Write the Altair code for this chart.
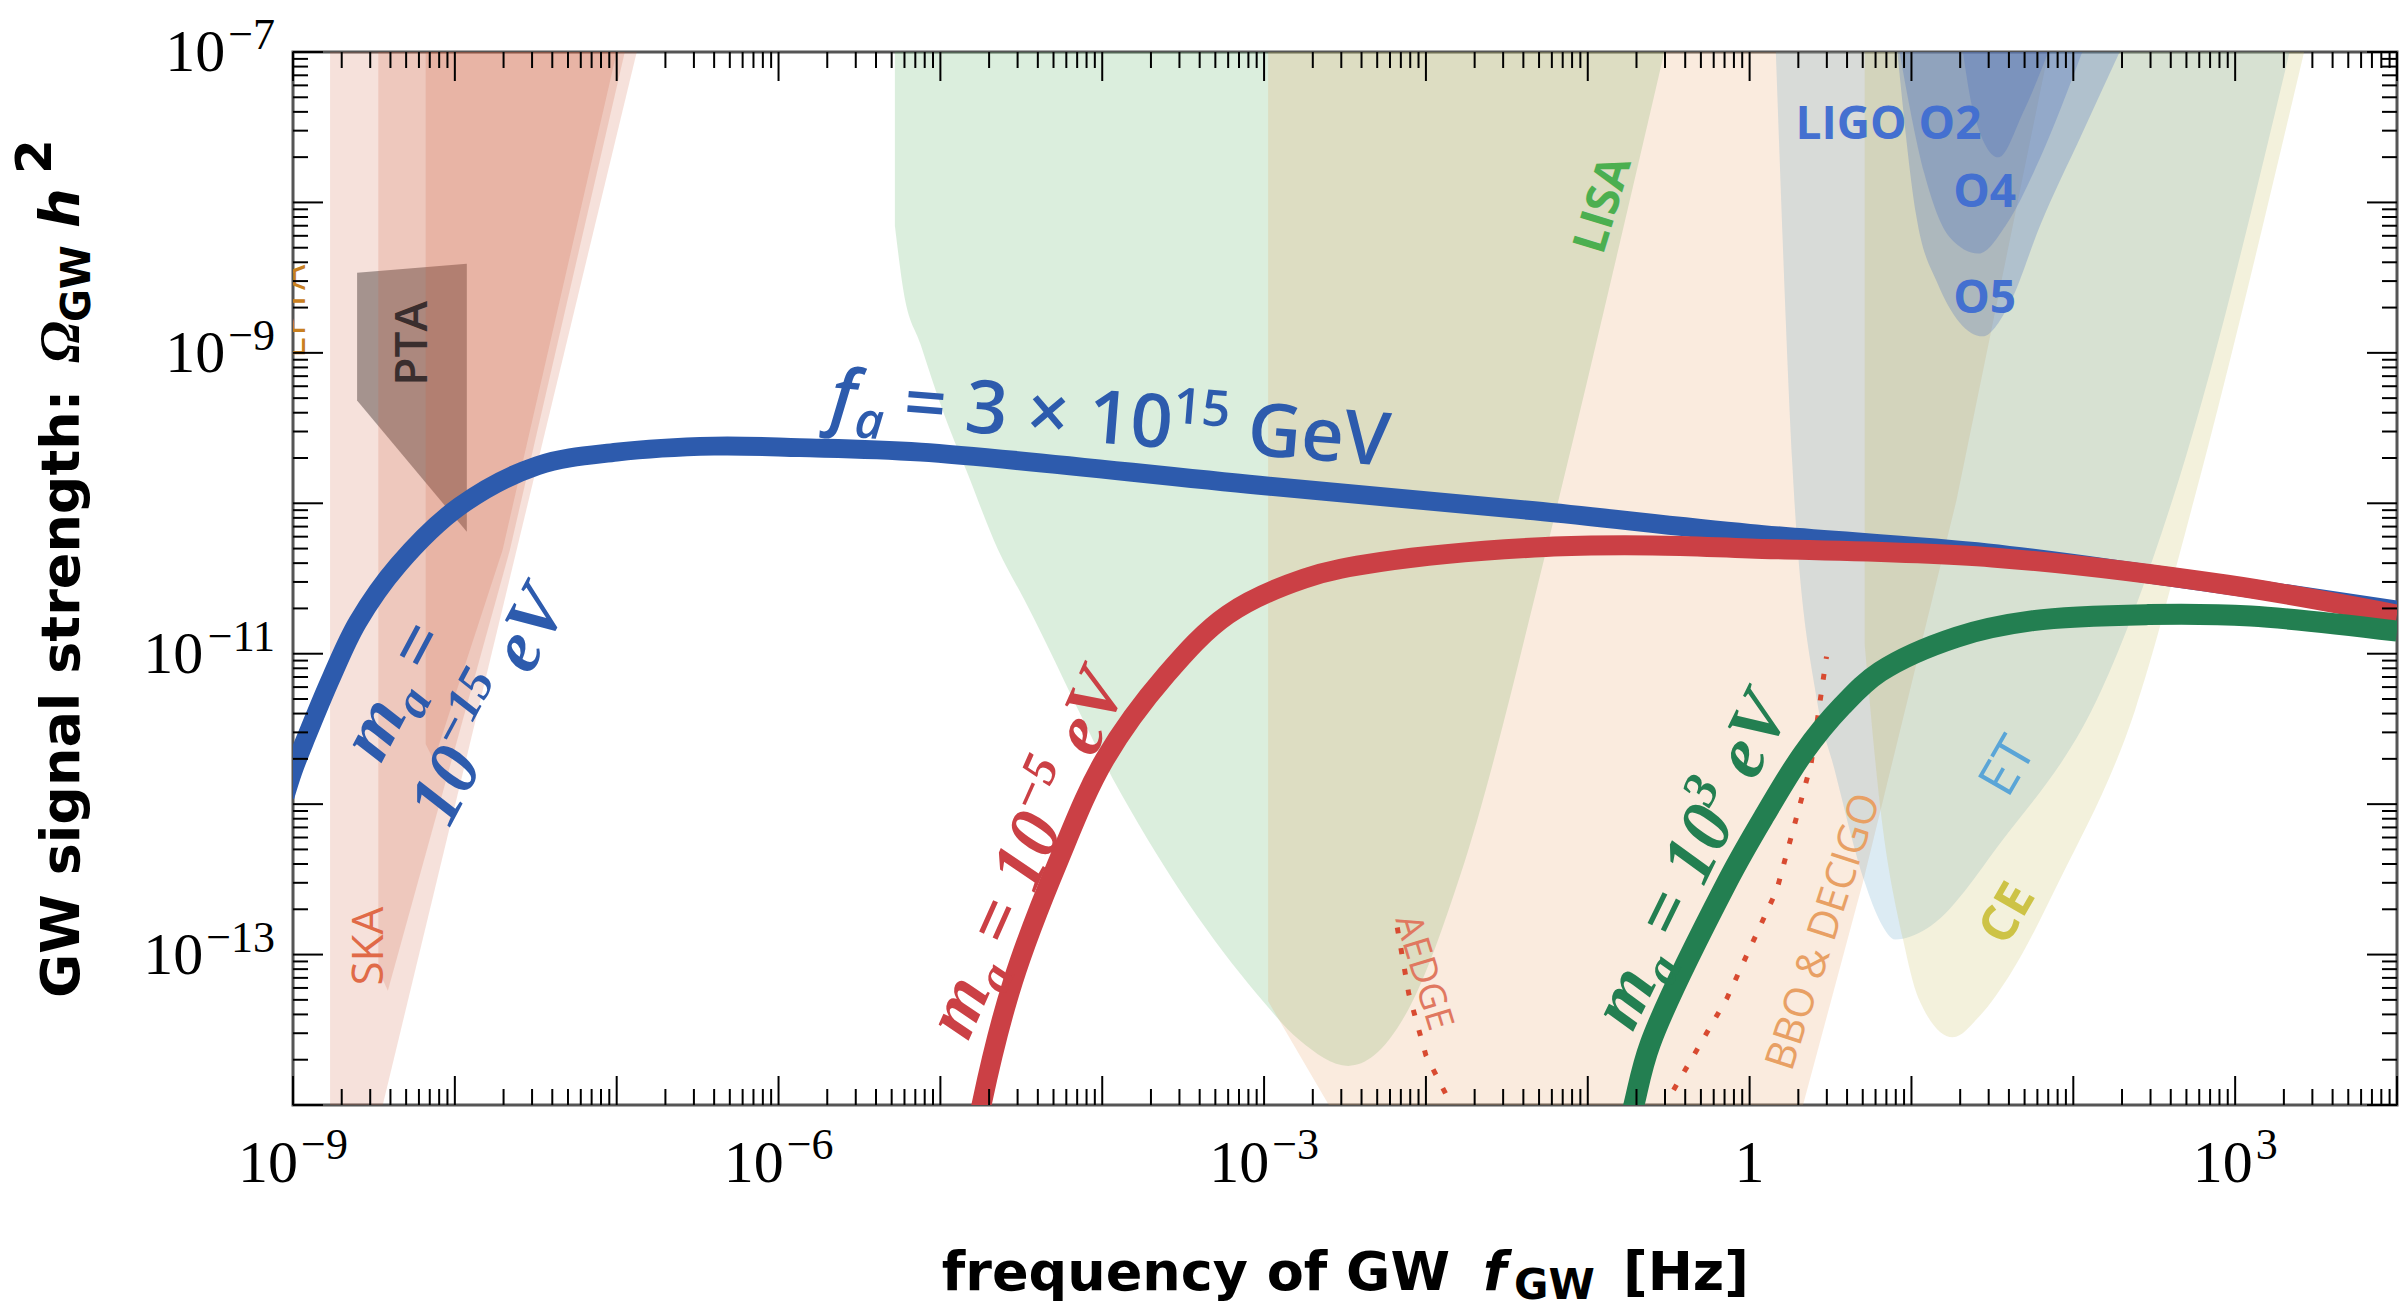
import altair as alt
import pandas as pd

W, H = 2104, 1053

# ---------------- data: log10(f / Hz) and log10(Omega h^2) ----------------
# detector sensitivity regions (lower edge; region extends to the top of the plot)
SKA1_LF = [-8.771, -8.58, -6.876]
SKA1_LO = [-14.6, -14.6, -7.0]
SKA2_LF = [-8.473, -8.414, -7.66, -6.95]
SKA2_LO = [-13.1, -13.24, -10.31, -7.0]
SKA3_LF = [-8.18, -8.13, -7.705, -7.0]
SKA3_LO = [-11.6, -11.71, -10.31, -7.0]
PTA_LF = [-8.604, -7.926]
PTA_LO = [-9.316, -10.19]
PTA_HI = [-8.468, -8.407]
LISA_LF = [-5.281, -5.228, -5.122, -4.98, -4.838, -4.643, -4.482, -3.879, -3.046, -2.78, -2.48,
           -2.32, -2.106, -1.787, -1.256, -1.19, -0.527]
LISA_LO = [-8.157, -8.588, -8.944, -9.40, -9.786, -10.31, -10.64, -11.94, -13.26, -13.57, -13.74,
           -13.67, -13.36, -12.47, -10.31, -10.02, -7.0]
BBO_LF = [-2.975, -2.60, -2.50, 0.19, 0.33, 0.70, 1.278, 1.846]
BBO_LO = [-13.31, -14.0, -14.6, -14.6, -14.0, -12.52, -9.98, -7.0]
ET_LF = [0.162, 0.264, 0.416, 0.522, 0.711, 0.806, 0.90, 1.09, 1.562, 2.17, 2.65, 3.336]
ET_LO = [-7.0, -9.74, -11.31, -11.76, -12.52, -12.78, -12.9, -12.83, -12.24, -11.25, -9.85, -7.0]
CE_LF = [0.711, 0.806, 0.948, 1.043, 1.255, 1.42, 1.61, 1.918, 2.38, 2.745, 3.426]
CE_LO = [-10.94, -12.01, -12.9, -13.29, -13.55, -13.41, -13.13, -12.50, -11.38, -9.98, -7.0]
O5_LF = [0.913, 1.03, 1.158, 1.44, 1.594, 1.80, 2.055, 2.286]
O5_LO = [-7.0, -8.09, -8.53, -8.89, -8.70, -8.14, -7.54, -7.0]
O4_LF = [0.926, 1.08, 1.235, 1.414, 1.59, 1.797, 2.055]
O4_LO = [-7.0, -7.81, -8.23, -8.34, -8.14, -7.70, -7.0]
O2_LF = [1.318, 1.383, 1.536, 1.69, 1.846]
O2_LO = [-7.0, -7.40, -7.70, -7.40, -7.0]
TOP = -7.0

# dotted projections
AEDGE_LF = [-2.177, -2.106, -2.0, -1.866]
AEDGE_LO = [-12.82, -13.26, -13.67, -13.95]
BBOD_LF = [-0.47, -0.14, 0.168, 0.38, 0.475]
BBOD_LO = [-13.9, -13.29, -12.57, -11.73, -11.02]

# GW spectra
BLUE_LF = [-9.05, -9.0, -8.92, -8.76, -8.60, -8.35, -7.97, -7.49, -7.0, -6.4, -5.87, -5.12, -3.03,
           -1.33, 0.0, 1.47, 2.47, 4.0]
BLUE_LO = [-11.95, -11.78, -11.56, -11.15, -10.79, -10.41, -10.02, -9.75, -9.66, -9.62, -9.63, -9.66,
           -9.88, -10.05, -10.2, -10.33, -10.47, -10.71]
RED_LF = [-4.80, -4.742, -4.552, -4.268, -3.983, -3.605, -3.224, -2.75, -2.276, -1.26, -0.6, 0.0,
          1.5, 2.94, 4.0]
RED_LO = [-14.35, -13.98, -13.18, -12.37, -11.70, -11.14, -10.74, -10.50, -10.39, -10.29, -10.28,
          -10.30, -10.36, -10.54, -10.74]
GREEN_LF = [-0.76, -0.715, -0.613, -0.14, 0.096, 0.333, 0.57, 0.806, 1.278, 1.752, 2.462, 3.095, 4.0]
GREEN_LO = [-14.2, -14.0, -13.59, -12.52, -12.07, -11.66, -11.35, -11.12, -10.89, -10.78, -10.74,
            -10.75, -10.85]

# tick labels
X_LABEL_EXP = [-9, -6, -3, 0, 3]
X_LABEL_BASE = ["10", "10", "10", "1", "10"]
X_LABEL_SUP = ["−9", "−6", "−3", "", "3"]
Y_LABEL_EXP = [-7, -9, -11, -13]
Y_LABEL_BASE = ["10", "10", "10", "10"]
Y_LABEL_SUP = ["−7", "−9", "−11", "−13"]
X_DECADES = list(range(-9, 5))
Y_DECADES = list(range(-14, -6))
MINOR_MULT = [2, 3, 4, 5, 6, 7, 8, 9]

# ---------------- helpers ----------------
XS = alt.Scale(type="log", domain=[1e-9, 1e4], nice=False)
YS = alt.Scale(type="log", domain=[1e-14, 1e-7], nice=False)

SERIF_W = {"0": .5, "1": .5, "3": .5, "6": .5, "7": .5, "9": .5, "−": .564}
TIMES_BI_W = {"m": .778, "a": .5, " ": .25, "=": .57, "0": .5, "1": .5, "3": .5, "5": .5, "−": .606,
              "e": .444, "V": .667}
OPEN_SB_W = {"f": .35, "a": .57, " ": .26, "=": .57, "3": .57, "×": .57, "1": .57, "0": .57, "5": .57,
             "G": .74, "e": .57, "V": .61}


def tw(s, size, table):
    return sum(table.get(c, .55) for c in s) * size


def X(field="f"):
    return alt.X(f"{field}:Q", scale=XS, axis=None)


def Y(field="om"):
    return alt.Y(f"{field}:Q", scale=YS, axis=None)


def frame(lf, lo, hi=None):
    return pd.DataFrame({
        "f": [10.0 ** v for v in lf],
        "om": [10.0 ** v for v in lo],
        "om2": [10.0 ** v for v in (hi if hi is not None else [TOP] * len(lf))],
    })


def region(lf, lo, color, opacity, interp="monotone", hi=None):
    return alt.Chart(frame(lf, lo, hi)).mark_area(
        color=color, opacity=opacity, clip=True, orient="vertical", interpolate=interp
    ).encode(x=X(), y=Y(), y2="om2:Q")


def curve(lf, lo, color, width, dash=None, interp="catmull-rom"):
    kw = dict(color=color, strokeWidth=width, clip=True, interpolate=interp, strokeCap="butt")
    if dash:
        kw["strokeDash"] = dash
    return alt.Chart(frame(lf, lo)).mark_line(**kw).encode(x=X(), y=Y(), order="f:Q")


def label(text, lf, lo, color, size, angle=0, font="Open Sans", weight="bold", style="normal",
          clip=False):
    df = pd.DataFrame({"f": [10.0 ** lf], "om": [10.0 ** lo], "t": [text]})
    return alt.Chart(df).mark_text(
        color=color, fontSize=size, angle=angle % 360, font=font, fontWeight=weight, fontStyle=style,
        align="center", baseline="middle", clip=clip
    ).encode(x=X(), y=Y(), text="t:N")


def rich(pieces, lf, lo, color, angle, font, weight, table, center=True, base=74):
    """pieces: (text, size, dy, style); dx / dy act along / across the rotated baseline.
    Spaces at the ends of a piece are turned into offsets (SVG would drop them)."""
    df = pd.DataFrame({"f": [10.0 ** lf], "om": [10.0 ** lo]})
    total = sum(tw(t, s, table) for t, s, _, _ in pieces)
    pos = -total / 2 if center else 0.0
    voff = 0.33 * base if center else 0.0
    out = []
    for t, s, dy, st in pieces:
        core = t.strip(" ")
        lead = len(t) - len(t.lstrip(" "))
        trail = len(t) - len(t.rstrip(" "))
        pos += tw(" " * lead, s, table)
        out.append(alt.Chart(df.assign(t=core)).mark_text(
            color=color, fontSize=s, angle=angle % 360, font=font, fontWeight=weight, fontStyle=st,
            align="left", baseline="alphabetic", dx=pos, dy=voff + dy
        ).encode(x=X(), y=Y(), text="t:N"))
        pos += tw(core, s, table) + tw(" " * trail, s, table)
    return out


def ptext(text, x, y, size, angle=0, align="left", weight="bold", style="normal", font="DejaVu Sans"):
    df = pd.DataFrame({"t": [text]})
    return alt.Chart(df).mark_text(
        color="black", fontSize=size, angle=angle % 360, font=font, fontWeight=weight,
        fontStyle=style, align=align, baseline="alphabetic"
    ).encode(x=alt.value(x), y=alt.value(y), text="t:N")


def xticks(values, length):
    df = pd.DataFrame({"f": values})
    base = alt.Chart(df).mark_rule(color="black", strokeWidth=2)
    return [base.encode(x=X(), y=alt.value(H), y2=alt.value(H - length)),
            base.encode(x=X(), y=alt.value(0), y2=alt.value(length))]


def yticks(values, length):
    df = pd.DataFrame({"om": values})
    base = alt.Chart(df).mark_rule(color="black", strokeWidth=2)
    return [base.encode(y=Y(), x=alt.value(0), x2=alt.value(length)),
            base.encode(y=Y(), x=alt.value(W), x2=alt.value(W - length))]


def xlabels():
    out = []
    for e, b, s in zip(X_LABEL_EXP, X_LABEL_BASE, X_LABEL_SUP):
        df = pd.DataFrame({"f": [10.0 ** e], "b": [b], "s": [s]})
        wb, ws = tw(b, 60, SERIF_W), tw(s, 44, SERIF_W)
        gap = 3 if s else 0
        left = -(wb + gap + ws) / 2
        out.append(alt.Chart(df).mark_text(font="Liberation Serif", fontSize=60, color="black",
                                           align="left", baseline="alphabetic", dx=left)
                   .encode(x=X(), y=alt.value(1130), text="b:N"))
        if s:
            out.append(alt.Chart(df).mark_text(font="Liberation Serif", fontSize=44, color="black",
                                               align="left", baseline="alphabetic",
                                               dx=left + wb + gap)
                       .encode(x=X(), y=alt.value(1107), text="s:N"))
    return out


def ylabels():
    out = []
    for e, b, s in zip(Y_LABEL_EXP, Y_LABEL_BASE, Y_LABEL_SUP):
        df = pd.DataFrame({"om": [10.0 ** e], "b": [b], "s": [s]})
        ws = tw(s, 44, SERIF_W)
        out.append(alt.Chart(df).mark_text(font="Liberation Serif", fontSize=44, color="black",
                                           align="right", baseline="alphabetic", dy=-3)
                   .encode(y=Y(), x=alt.value(-18), text="s:N"))
        out.append(alt.Chart(df).mark_text(font="Liberation Serif", fontSize=60, color="black",
                                           align="right", baseline="alphabetic", dy=19)
                   .encode(y=Y(), x=alt.value(-18 - ws - 3), text="b:N"))
    return out


# ---------------- layers ----------------
layers = []
layers.append(region(PTA_LF, PTA_LO, "#3c4146", 0.5, interp="linear", hi=PTA_HI))
for lf, lo in [(SKA1_LF, SKA1_LO), (SKA2_LF, SKA2_LO), (SKA3_LF, SKA3_LO)]:
    layers.append(region(lf, lo, "#cd5a37", 0.18, interp="linear"))
layers.append(region(LISA_LF, LISA_LO, "#4baa55", 0.2))
layers.append(region(BBO_LF, BBO_LO, "#e69b5a", 0.2, interp="linear"))
layers.append(region(ET_LF, ET_LO, "#509bc3", 0.2))
layers.append(region(CE_LF, CE_LO, "#c3b950", 0.2))
for lf, lo in [(O5_LF, O5_LO), (O4_LF, O4_LO), (O2_LF, O2_LO)]:
    layers.append(region(lf, lo, "#3c64be", 0.25))

layers.append(curve(AEDGE_LF, AEDGE_LO, "#d84a30", 5, dash=[6, 15], interp="linear"))
layers.append(curve(BBOD_LF, BBOD_LO, "#d84a30", 5, dash=[6, 15], interp="linear"))

# region labels
layers.append(label("PTA", -8.256, -8.937, "#3a2e2e", 46, angle=-90, weight=600))
layers.append(label("EPTA", -9.0, -8.725, "#c88020", 40, angle=-90, weight="normal", clip=True))
layers.append(label("SKA", -8.524, -12.944, "#e06a48", 44, angle=-90, weight="normal"))
layers.append(label("LISA", -0.902, -8.017, "#4caf50", 46, angle=-73, weight="bold"))
layers.append(label("AEDGE", -2.017, -13.12, "#e07860", 37, angle=73, weight="normal"))
layers.append(label("BBO & DECIGO", 0.462, -12.85, "#e8a064", 41, angle=-72, weight="normal"))
layers.append(label("ET", 1.598, -11.75, "#5aa5d7", 52, angle=-60, weight=500))
layers.append(label("CE", 1.598, -12.73, "#cdc346", 50, angle=-60, weight="bold"))
layers.append(label("LIGO O2", 0.858, -7.483, "#4470d0", 46, weight="bold"))
layers.append(label("O4", 1.452, -7.94, "#4470d0", 46, weight="bold"))
layers.append(label("O5", 1.452, -8.64, "#4470d0", 46, weight="bold"))

# spectra
layers.append(curve(BLUE_LF, BLUE_LO, "#2d5bad", 19))
layers.append(curve(RED_LF, RED_LO, "#cb4045", 20))
layers.append(curve(GREEN_LF, GREEN_LO, "#237f51", 21))

# spectrum labels (sub/superscripts as separate pieces along the rotated baseline)
S = 74
SS = 50
layers += rich([("f", 74, 0, "italic"), ("a", 50, 14, "italic"), (" = 3 × 10", 74, 0, "normal"),
                ("15", 50, -26, "normal"), (" GeV", 74, 0, "normal")],
               -5.689, -9.453, "#2d5bad", 4.6, "Open Sans", 600, OPEN_SB_W, center=False)
layers += rich([("m", S, 0, "italic"), ("a", SS, 15, "italic"), (" =", S, 0, "italic")],
               -8.383, -11.24, "#2d5bad", -62, "Liberation Serif", "bold", TIMES_BI_W)
layers += rich([("10", S, 0, "italic"), ("−15", SS, -29, "italic"), (" eV", S, 0, "italic")],
               -7.80, -11.34, "#2d5bad", -62, "Liberation Serif", "bold", TIMES_BI_W)
layers += rich([("m", S, 0, "italic"), ("a", SS, 15, "italic"), (" = 10", S, 0, "italic"),
                ("−5", SS, -29, "italic"), (" eV", S, 0, "italic")],
               -4.475, -12.325, "#cb4045", -66, "Liberation Serif", "bold", TIMES_BI_W)
layers += rich([("m", S, 0, "italic"), ("a", SS, 15, "italic"), (" = 10", S, 0, "italic"),
                ("3", SS, -29, "italic"), (" eV", S, 0, "italic")],
               -0.37, -12.37, "#237f51", -64, "Liberation Serif", "bold", TIMES_BI_W)

# ticks (inside the frame, all four sides) and tick labels
layers += xticks([10.0 ** d for d in X_DECADES], 29)
layers += xticks([m * 10.0 ** d for d in X_DECADES[:-1] for m in MINOR_MULT], 16)
layers += yticks([10.0 ** d for d in Y_DECADES], 30)
layers += yticks([m * 10.0 ** d for d in Y_DECADES[:-1] for m in MINOR_MULT], 15)
layers += xlabels()
layers += ylabels()

# axis titles
layers.append(ptext("frequency of GW", 1157, 1238, 54, align="right"))
layers.append(ptext("f", 1190, 1238, 54, style="italic"))
layers.append(ptext("GW", 1221, 1247, 42))
layers.append(ptext("[Hz]", 1330, 1238, 54))

layers.append(ptext("GW signal strength:", -214, 946, 54, angle=-90))
layers.append(ptext("Ω", -214, 311, 56, angle=-90, font="Liberation Serif", style="italic"))
layers.append(ptext("GW", -203, 270, 40, angle=-90))
layers.append(ptext("h", -214, 176, 56, angle=-90, style="italic"))
layers.append(ptext("2", -242, 122, 50, angle=-90))

chart = alt.layer(*layers).properties(
    width=W, height=H,
    autosize=alt.AutoSizeParams(type="none"),
    padding={"left": 293, "top": 52, "right": 9, "bottom": 206},
    background="white",
).configure_view(stroke="#555555", strokeWidth=3)

chart.save("out.html", embed_options={"renderer": "svg", "actions": False})
